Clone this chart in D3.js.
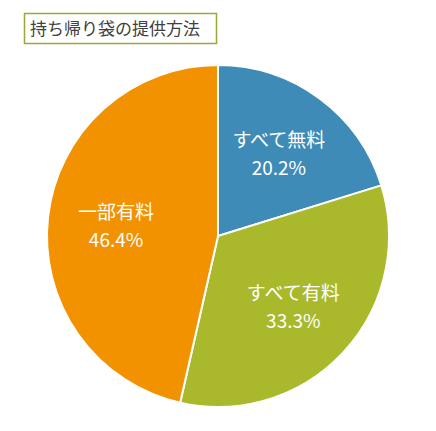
<!DOCTYPE html>
<html><head><meta charset="utf-8">
<script src="https://cdn.jsdelivr.net/npm/d3@7"></script>
<style>body{margin:0;background:#fff}</style>
</head><body>
<svg id="chart" width="436" height="431"></svg>
<script>
const categories = ["すべて無料", "すべて有料", "一部有料"];
const values = [20.2, 33.3, 46.4];
const colors = ["#3f8bb8", "#a9b92b", "#f39200"];

const svg = d3.select("#chart");
const cx = 218, cy = 236, r = 171;

// title box
svg.append("rect").attr("x", 24.5).attr("y", 13.5).attr("width", 192).attr("height", 30)
  .attr("fill", "#fff").attr("stroke", "#9aa83a").attr("stroke-width", 1.5);
svg.append("text").attr("x", 30).attr("y", 35).attr("font-size", 17)
  .attr("font-family", "Noto Sans CJK JP").attr("fill", "#404040")
  .text("持ち帰り袋の提供方法");

const pie = d3.pie().sort(null).value(d => d)(values);
const arc = d3.arc().innerRadius(0).outerRadius(r);
const labelArc = d3.arc().innerRadius(r * 0.6).outerRadius(r * 0.6);

const g = svg.append("g").attr("transform", `translate(${cx},${cy})`);
g.selectAll("path").data(pie).join("path")
  .attr("d", arc).attr("fill", (d, i) => colors[i])
  .attr("stroke", "#fff").attr("stroke-width", 2);

const lab = g.selectAll("g.lab").data(pie).join("g")
  .attr("transform", d => { const [x, y] = labelArc.centroid(d); return `translate(${x},${y})`; });
lab.append("text").attr("text-anchor", "middle").attr("y", -6)
  .attr("font-family", "Noto Sans CJK JP").attr("font-size", 19).attr("fill", "#fff")
  .text((d, i) => categories[i]);
lab.append("text").attr("text-anchor", "middle").attr("y", 22)
  .attr("font-family", "Noto Sans CJK JP").attr("font-size", 19).attr("fill", "#fff")
  .text(d => d.data.toFixed(1) + "%");
</script>
</body></html>
